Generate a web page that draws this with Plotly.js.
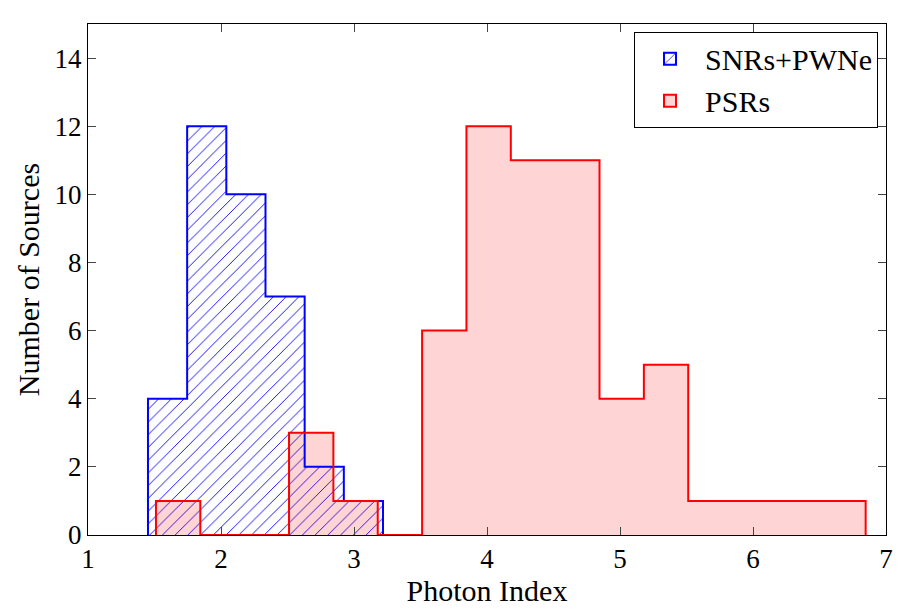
<!DOCTYPE html>
<html>
<head>
<script src="https://cdn.plot.ly/plotly-3.0.1.min.js"></script>
<style>body{margin:0;background:#fff}</style>
</head>
<body>
<div id="chart" style="width:914px;height:611px"></div>
<script>
// SNRs+PWNe histogram
const snrStart = 1.451;
const snrWidth = 0.2945;
const snrCounts = [4, 12, 10, 7, 2, 1];

// PSRs histogram
const psrStart = 1.511;
const psrWidth = 0.3335;
const psrCounts = [1, 0, 0, 3, 1, 0, 6, 12, 11, 11, 4, 5, 1, 1, 1, 1];

function centers(start, w, counts) {
  return counts.map((_, i) => start + w * (i + 0.5));
}
function outline(start, w, counts) {
  const xs = [start], ys = [0];
  counts.forEach((c, i) => { xs.push(start + w * i); ys.push(c); });
  xs.push(start + w * counts.length); ys.push(counts[counts.length - 1]);
  xs.push(start + w * counts.length); ys.push(0);
  return { xs, ys };
}

const snrLine = outline(snrStart, snrWidth, snrCounts);
const psrLine = outline(psrStart, psrWidth, psrCounts);

const hatch = { shape: '/', fgcolor: 'blue', bgcolor: 'rgba(0,0,0,0)', size: 9, solidity: 0.1 };
const pink = 'rgba(255,0,0,0.17)';

const data = [
  { type: 'bar', x: centers(snrStart, snrWidth, snrCounts), y: snrCounts, width: snrWidth, showlegend: false,
    marker: { color: 'rgba(0,0,0,0)', line: { width: 0 }, pattern: hatch } },
  { type: 'bar', x: centers(psrStart, psrWidth, psrCounts), y: psrCounts, width: psrWidth, showlegend: false,
    marker: { color: pink, line: { width: 0 } } },
  { type: 'scatter', mode: 'lines', x: snrLine.xs, y: snrLine.ys, line: { shape: 'hv', color: 'blue', width: 2 }, showlegend: false, hoverinfo: 'skip' },
  { type: 'scatter', mode: 'lines', x: psrLine.xs, y: psrLine.ys, line: { shape: 'hv', color: 'red', width: 2 }, showlegend: false, hoverinfo: 'skip' },
  // legend entries
  { type: 'bar', name: 'SNRs+PWNe', x: [null], y: [null],
    marker: { color: 'rgba(0,0,0,0)', line: { width: 2, color: 'blue' }, pattern: hatch } },
  { type: 'bar', name: 'PSRs', x: [null], y: [null],
    marker: { color: pink, line: { width: 2, color: 'red' } } }
];

const font = { family: 'Liberation Serif, DejaVu Serif, serif', size: 26, color: 'black' };

const layout = {
  width: 914, height: 611,
  margin: { l: 88, r: 28, t: 24, b: 76 },
  barmode: 'overlay', bargap: 0,
  paper_bgcolor: 'white', plot_bgcolor: 'white',
  font: font,
  showlegend: true,
  legend: { x: 0.99, y: 0.985, xanchor: 'right', yanchor: 'top', bordercolor: 'black', borderwidth: 1,
    bgcolor: 'white', font: { family: font.family, size: 30 }, traceorder: 'normal', itemwidth: 60 },
  xaxis: {
    range: [1, 7], dtick: 1, ticks: 'inside', ticklen: 8, mirror: 'ticks', showline: true, linecolor: 'black',
    showgrid: false, zeroline: false, tickfont: { size: 27 },
    title: { text: 'Photon Index', font: { size: 30 }, standoff: 2 }
  },
  yaxis: {
    range: [0, 15], dtick: 2, ticks: 'inside', ticklen: 8, mirror: 'ticks', showline: true, linecolor: 'black',
    showgrid: false, zeroline: false, tickfont: { size: 27 },
    title: { text: 'Number of Sources', font: { size: 30 }, standoff: 6 }
  }
};

Plotly.newPlot('chart', data, layout, { displayModeBar: false });
</script>
</body>
</html>
